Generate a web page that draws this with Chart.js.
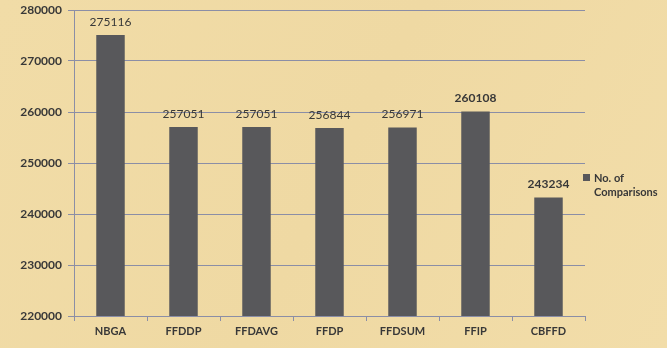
<!DOCTYPE html>
<html lang="en">
<head>
<meta charset="UTF-8" />
<title>No. of Comparisons</title>
<script src="https://cdn.jsdelivr.net/npm/chart.js"></script>
<style>
  html, body { margin: 0; padding: 0; background: #efd9a4; }
  #wrap { width: 667px; height: 348px; position: relative; }
</style>
</head>
<body>
<div id="wrap"><canvas id="chart"></canvas></div>
<script>
  const methods = ["NBGA", "FFDDP", "FFDAVG", "FFDP", "FFDSUM", "FFIP", "CBFFD"];
  const comparisons = [275116, 257051, 257051, 256844, 256971, 260108, 243234];
  const boldValueLabels = ["FFIP", "CBFFD"];
  const seriesName = ["No. of", "Comparisons"];
  const yMin = 220000;
  const yMax = 280000;
  const yStep = 10000;

  const textColor = "#383838";
  const gridColor = "#8b8ea6";
  const barColor = "#58585b";
  const fontFamily = "Lato, 'Open Sans', sans-serif";

  // paper-ish background
  const background = {
    id: "background",
    beforeDraw(chart) {
      const { ctx, width, height } = chart;
      ctx.save();
      const g = ctx.createLinearGradient(0, 0, width, height);
      g.addColorStop(0, "#f1dca7");
      g.addColorStop(0.5, "#efd9a3");
      g.addColorStop(1, "#f2dda9");
      ctx.fillStyle = g;
      ctx.fillRect(0, 0, width, height);
      ctx.restore();
    },
  };

  // numbers above the bars
  const valueLabels = {
    id: "valueLabels",
    afterDatasetsDraw(chart) {
      const { ctx } = chart;
      const meta = chart.getDatasetMeta(0);
      ctx.save();
      ctx.fillStyle = textColor;
      ctx.textAlign = "center";
      ctx.textBaseline = "middle";
      meta.data.forEach((bar, i) => {
        const bold = boldValueLabels.includes(methods[i]);
        ctx.font = (bold ? "bold " : "") + "12px " + fontFamily;
        ctx.fillText(String(comparisons[i]), bar.x, bar.y - 13);
      });
      ctx.restore();
    },
  };

  // legend on the right, two lines of text
  const sideLegend = {
    id: "sideLegend",
    afterDraw(chart) {
      const { ctx, chartArea } = chart;
      const x = chartArea.right - 2;
      const y = 178;
      ctx.save();
      ctx.fillStyle = barColor;
      ctx.fillRect(x, y - 4, 7, 7);
      ctx.fillStyle = textColor;
      ctx.font = "bold 11px " + fontFamily;
      ctx.textAlign = "left";
      ctx.textBaseline = "middle";
      seriesName.forEach((line, i) => {
        ctx.fillText(line, x + 11, y + i * 14);
      });
      ctx.restore();
    },
  };

  new Chart(document.getElementById("chart"), {
    type: "bar",
    data: {
      labels: methods,
      datasets: [
        {
          label: seriesName.join(" "),
          data: comparisons,
          backgroundColor: barColor,
          barPercentage: 0.39,
          categoryPercentage: 1,
        },
      ],
    },
    options: {
      responsive: true,
      maintainAspectRatio: false,
      animation: false,
      layout: { padding: { top: 10, right: 82, left: 0, bottom: 0 } },
      plugins: {
        legend: { display: false },
        tooltip: { enabled: false },
      },
      scales: {
        x: {
          grid: {
            offset: true,
            drawOnChartArea: false,
            color: gridColor,
            tickLength: 5,
          },
          border: { color: gridColor },
          ticks: {
            color: textColor,
            font: { family: fontFamily, size: 11, weight: "bold" },
            padding: 4,
          },
          afterFit: (s) => { s.height = 32; },
        },
        y: {
          min: yMin,
          max: yMax,
          ticks: {
            stepSize: yStep,
            color: textColor,
            font: { family: fontFamily, size: 12, weight: "bold" },
            padding: 6,
            callback: (v) => String(v),
          },
          grid: { color: gridColor, tickLength: 6 },
          border: { color: gridColor },
          afterFit: (s) => {
            s.width = 74;
            s.paddingTop = 0;
            s.paddingBottom = 0;
          },
        },
      },
    },
    plugins: [background, valueLabels, sideLegend],
  });
</script>
</body>
</html>
